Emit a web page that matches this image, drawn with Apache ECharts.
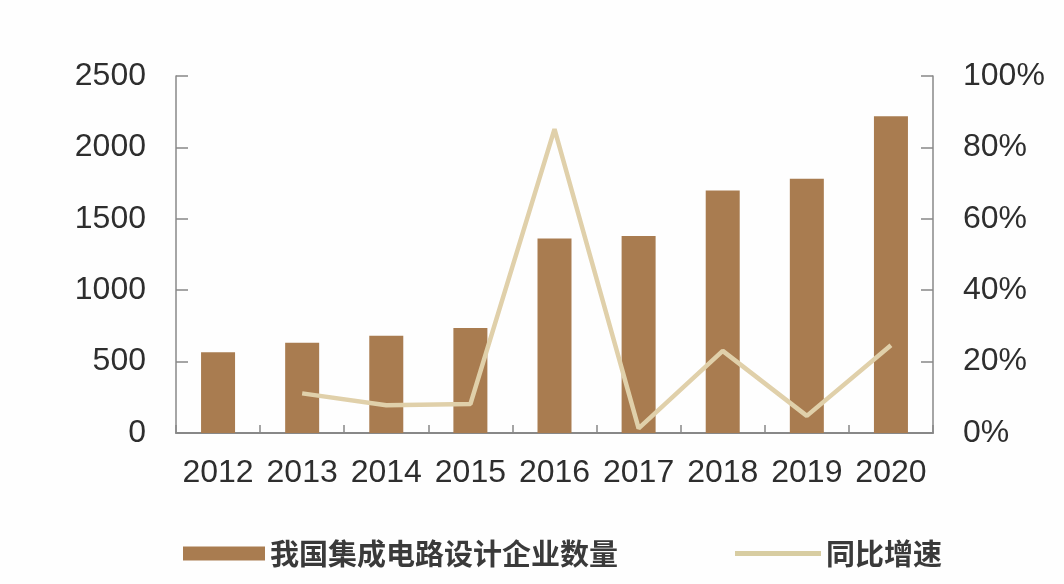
<!DOCTYPE html>
<html><head><meta charset="utf-8">
<script src="https://cdn.jsdelivr.net/npm/echarts@6/dist/echarts.min.js"></script>
<style>html,body{margin:0;padding:0;background:#fff}#c{width:1064px;height:584px}</style>
</head><body><div id="c"></div>
<script>
const years = ['2012','2013','2014','2015','2016','2017','2018','2019','2020'];
const companyCounts = [565, 632, 681, 736, 1362, 1380, 1698, 1780, 2218];
const yoyGrowth = [null, 11.1, 7.8, 8.1, 85.1, 1.3, 23.0, 4.8, 24.6];
const leftTicks = [0, 500, 1000, 1500, 2000, 2500];
const rightTicks = [0, 20, 40, 60, 80, 100];
const barName = '我国集成电路设计企业数量';
const lineName = '同比增速';

const chart = echarts.init(document.getElementById('c'));
const axisFont = {fontFamily: 'Liberation Sans, Arial, sans-serif', fontSize: 32, color: '#2e2e2e'};
const legendFont = {fontFamily: 'Noto Sans CJK SC', fontWeight: 'bold', fontSize: 29, color: '#3a3a3a'};
chart.setOption({
  animation: false,
  backgroundColor: '#fefefe',
  grid: {left: 176, right: 131, top: 76, bottom: 151, containLabel: false},
  legend: [
    {data: [{name: barName, icon: 'rect'}], left: 178, top: 534, itemWidth: 82, itemHeight: 14, itemGap: 8,
     textStyle: legendFont},
    {data: [{name: lineName, icon: 'rect', itemStyle: {color: '#D8CDA2'}}], left: 730, top: 534, itemWidth: 86, itemHeight: 5, itemGap: 8,
     textStyle: legendFont}
  ],
  xAxis: {
    type: 'category', data: years,
    axisLine: {lineStyle: {color: '#888', width: 2}},
    axisTick: {show: true, inside: true, length: 8, lineStyle: {color: '#888', width: 1.5}},
    axisLabel: Object.assign({margin: 24, interval: 0, hideOverlap: false}, axisFont)
  },
  yAxis: [
    {type: 'value', min: leftTicks[0], max: leftTicks[leftTicks.length-1], interval: 500,
     axisLine: {show: true, lineStyle: {color: '#888', width: 1.5}},
     axisTick: {show: true, inside: true, length: 12, lineStyle: {color: '#888', width: 1.5}},
     splitLine: {show: false},
     axisLabel: Object.assign({margin: 30, formatter: v => String(v)}, axisFont)},
    {type: 'value', min: rightTicks[0], max: rightTicks[rightTicks.length-1], interval: 20,
     axisLine: {show: true, lineStyle: {color: '#888', width: 1.5}},
     axisTick: {show: true, inside: true, length: 12, lineStyle: {color: '#888', width: 1.5}},
     splitLine: {show: false},
     axisLabel: Object.assign({margin: 30, formatter: '{value}%'}, axisFont)}
  ],
  series: [
    {name: barName, type: 'bar', data: companyCounts, barWidth: 34,
     itemStyle: {color: '#A97C50'}},
    {name: lineName, type: 'line', yAxisIndex: 1, data: yoyGrowth, symbol: 'none',
     lineStyle: {color: '#E0D0AA', width: 4.5}, itemStyle: {color: '#D8CDA2'}}
  ]
});
</script></body></html>
